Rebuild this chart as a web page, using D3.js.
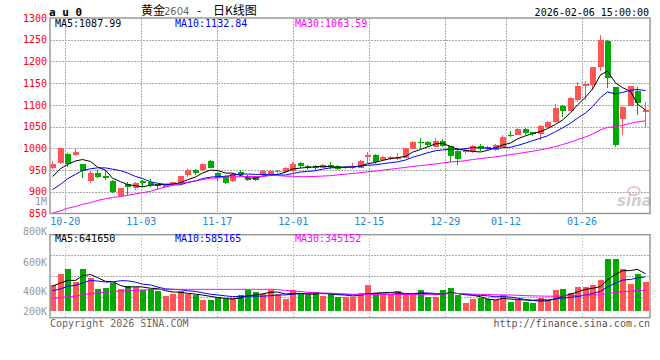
<!DOCTYPE html>
<html>
<head>
<meta charset="utf-8">
<script src="https://cdn.jsdelivr.net/npm/d3@7"></script>
<style>
body { margin: 0; background: #fff; }
text { font-family: "DejaVu Sans Mono", monospace; font-size: 10px; }
</style>
</head>
<body>
<div id="chart"></div>
<script>
// trading days shown, 10-16 .. 02-06
var dates = ["10-16","10-17","10-20","10-21","10-22","10-23","10-24","10-27","10-28","10-29",
  "10-30","10-31","11-03","11-04","11-05","11-06","11-07","11-10","11-11","11-12",
  "11-13","11-14","11-17","11-18","11-19","11-20","11-21","11-24","11-25","11-26",
  "11-27","11-28","12-01","12-02","12-03","12-04","12-05","12-08","12-09","12-10",
  "12-11","12-12","12-15","12-16","12-17","12-18","12-19","12-22","12-23","12-24",
  "12-25","12-26","12-29","12-30","12-31","01-05","01-06","01-07","01-08","01-09",
  "01-12","01-13","01-14","01-15","01-16","01-19","01-20","01-21","01-22","01-23",
  "01-26","01-27","01-28","01-29","01-30","02-02","02-03","02-04","02-05","02-06"];

var open = [956,965,988,986,963,924,944,936,925,890, 918,910,924,923,917,911,918,918,938,950,
  950,971,944,936,925,946,932,935,939,941, 945,945,948,966,959,959,956,962,959,954,
  954,955,981,985,971,975,976,978,999,1014, 1015,1004,1017,1005,995,991,992,1005,1002,996,
  1004,1031,1031,1045,1037,1033,1049,1061,1098,1087, 1110,1144,1146,1187,1246,1141,1068,1098,1133,1085];
var high = [970,1001,990,1001,965,947,950,947,926,909, 922,923,928,929,918,919,923,937,953,953,
  967,972,946,938,943,950,938,937,949,950, 950,956,968,968,962,962,963,968,962,959,
  967,972,991,986,982,982,989,1001,1016,1023, 1016,1024,1022,1006,1000,998,1007,1011,1006,1009,
  1030,1040,1046,1047,1038,1053,1062,1102,1099,1119, 1153,1156,1188,1262,1249,1142,1097,1144,1141,1107];
var low = [952,964,956,982,932,921,932,927,898,890, 893,905,910,911,904,910,917,917,935,938,
  948,954,925,917,923,936,924,924,938,939, 942,943,946,955,950,951,954,953,951,953,
  953,955,967,964,970,973,973,977,998,999, 1003,1002,1003,969,962,988,990,995,996,995,
  1003,1026,1030,1031,1028,1020,1047,1059,1072,1085, 1107,1112,1135,1177,1139,1003,1031,1097,1076,1050];
var close = [965,1000,966,992,948,943,935,931,899,908, 910,921,920,916,912,918,922,936,950,944,
  964,955,932,921,942,938,927,927,948,948, 948,955,964,958,955,955,962,958,953,957,
  957,971,985,968,979,979,981,1001,1015,1011, 1008,1017,1005,982,977,996,1005,998,1000,1008,
  1027,1028,1045,1036,1033,1052,1061,1093,1087,1116, 1143,1149,1187,1250,1160,1007,1095,1143,1106,1089];

// volume, thousands of lots
var volume = [453,642,717,499,717,568,373,396,482,373, 430,413,367,373,344,258,298,338,287,269,
  183,183,241,201,224,269,367,327,287,355, 298,201,355,310,269,327,258,310,241,241,
  241,310,441,310,269,269,338,298,269,355, 241,241,355,396,269,138,201,224,201,183,
  269,155,183,155,138,224,183,355,373,310, 413,413,441,527,889,889,717,459,631,499];

// moving averages before enough visible days exist
var ma5Head = [935,953,963,971];
var ma10Head = [905,917,930,940,949,953,955,955,952];
var ma30Head = [851,856,862,866,871,875,880,884,887,889,892,895,898,901,906,911,915,919,922,925,
  928,931,932,934,934,935,935,935,935];
var vma5Head = [430,482,527,527];
var vma10Head = [350,380,425,441,482,527,516,499,499];
var vma30Head = [212,229,247,258,281,298,310,321,333,344,350,355,361,367,373,373,373,373,373,373,
  373,373,373,373,373,373,373,373,373];

var priceTicks = [1300,1250,1200,1150,1100,1050,1000,950,900,850];
var priceGrid = [1250,1200,1150,1100,1050,1000,950,900];
var volTicks = ["1M","800K","600K","400K","200K"];
var dateTicks = ["10-20","11-03","11-17","12-01","12-15","12-29","01-12","01-26"];
var priceLegend = ["MA5:1087.99","MA10:1132.84","MA30:1063.59"];
var volLegend = ["MA5:641650","MA10:585165","MA30:345152"];
var maColors = ["#000000","#0000ff","#ff00ff"];

var upColor = "#ff5555", downColor = "#00aa00";
var left = 50, right = 650;
var mainTop = 18, mainBottom = 213.5;
var volTop = 234.7, volBottom = 317.7;

function rolling(arr, n, head) {
  return arr.map(function(v, i) {
    if (i < n - 1) return head[i];
    return d3.mean(arr.slice(i - n + 1, i + 1));
  });
}

var svg = d3.select("#chart").append("svg")
  .attr("width", 660).attr("height", 360);

var x = d3.scaleBand().domain(d3.range(dates.length)).range([left, right]).padding(0);
var gridX = d3.scaleLinear().domain([0, dates.length]).range([left, 658]);
var y = d3.scaleLinear().domain([850, 1300]).range([mainBottom, mainTop]);
var vy = d3.scaleLinear().domain([0, 1000]).range([311, 252.9]);
// sina spaces the volume labels unevenly
var volLabelY = d3.scaleLinear().domain(d3.range(volTicks.length)).range([201, 231, 262, 291, 311]);

function cx(i) { return Math.round(x(i)) + 2.5; }

// grids
var grid = svg.append("g").attr("stroke", "#aaa").attr("stroke-dasharray", "1.5,1.5")
  .attr("shape-rendering", "crispEdges");
grid.selectAll("line.h").data(priceGrid).enter().append("line")
  .attr("x1", left).attr("x2", right)
  .attr("y1", d => Math.round(y(d)) + 0.5).attr("y2", d => Math.round(y(d)) + 0.5);
grid.selectAll("line.vh").data(d3.range(1, 4)).enter().append("line")
  .attr("x1", left).attr("x2", right)
  .attr("y1", d => Math.round(volTop + (volBottom - volTop) * d / 4) + 0.5)
  .attr("y2", d => Math.round(volTop + (volBottom - volTop) * d / 4) + 0.5);
dateTicks.forEach(function(t) {
  var gx = Math.round(gridX(dates.indexOf(t))) + 0.5;
  grid.append("line").attr("x1", gx).attr("x2", gx).attr("y1", mainTop).attr("y2", mainBottom);
  grid.append("line").attr("x1", gx).attr("x2", gx).attr("y1", volTop).attr("y2", volBottom);
});

// watermark
var wm = svg.append("g");
wm.append("ellipse").attr("cx", 634).attr("cy", 191).attr("rx", 6).attr("ry", 4)
  .attr("fill", "none").attr("stroke", "#e6b8b8").attr("stroke-width", 1.5);
wm.append("text").attr("x", 617).attr("y", 206).text("sina")
  .style("font-family", "DejaVu Sans").style("font-style", "italic").style("font-weight", "bold")
  .style("font-size", "15px").attr("fill", "#cfcfcf");

// candles
var candles = svg.append("g").attr("shape-rendering", "crispEdges");
var idx = d3.range(dates.length);
candles.selectAll("line").data(idx).enter().append("line")
  .attr("x1", cx).attr("x2", cx)
  .attr("y1", i => Math.round(y(high[i]))).attr("y2", i => Math.round(y(low[i])))
  .attr("stroke", i => close[i] >= open[i] ? upColor : downColor);
candles.selectAll("rect").data(idx).enter().append("rect")
  .attr("x", i => Math.round(x(i)))
  .attr("width", 6)
  .attr("y", i => Math.round(y(Math.max(open[i], close[i]))))
  .attr("height", i => Math.max(1, Math.round(Math.abs(y(open[i]) - y(close[i])))))
  .attr("fill", i => close[i] >= open[i] ? upColor : downColor);

// volume bars
svg.append("g").attr("shape-rendering", "crispEdges")
  .selectAll("rect").data(idx).enter().append("rect")
  .attr("x", i => Math.round(x(i)))
  .attr("width", 6)
  .attr("y", i => Math.round(vy(volume[i])))
  .attr("height", i => Math.round(vy(0)) - Math.round(vy(volume[i])))
  .attr("fill", i => close[i] >= open[i] ? upColor : downColor);

// moving average lines
var priceMAs = [rolling(close, 5, ma5Head), rolling(close, 10, ma10Head), rolling(close, 30, ma30Head)];
var volMAs = [rolling(volume, 5, vma5Head), rolling(volume, 10, vma10Head), rolling(volume, 30, vma30Head)];
priceMAs.forEach(function(ma, k) {
  svg.append("path").datum(idx)
    .attr("d", d3.line().x(cx).y(i => y(ma[i])))
    .attr("fill", "none").attr("stroke", maColors[k]).attr("stroke-width", 1);
});
volMAs.forEach(function(ma, k) {
  svg.append("path").datum(idx)
    .attr("d", d3.line().x(cx).y(i => vy(ma[i])))
    .attr("fill", "none").attr("stroke", maColors[k]).attr("stroke-width", 1);
});

// frames
var frame = svg.append("g").attr("fill", "none").attr("stroke", "#999").attr("stroke-width", 1.5);
frame.append("rect").attr("x", left).attr("y", mainTop).attr("width", right - left).attr("height", mainBottom - mainTop);
frame.append("rect").attr("x", left).attr("y", volTop).attr("width", right - left).attr("height", volBottom - volTop);

// axes labels
var yAxis = svg.append("g").attr("transform", `translate(${left},0)`)
  .call(d3.axisLeft(y).tickValues(priceTicks).tickFormat(d3.format("d")).tickSize(0).tickPadding(3));
yAxis.select(".domain").remove();
yAxis.selectAll("text").attr("fill", "#ff0000").style("font-family", "DejaVu Sans Mono").style("font-size", "10px");

svg.append("g").selectAll("text").data(volTicks).enter().append("text")
  .attr("x", 47).attr("y", (d, i) => volLabelY(i)).attr("dy", "0.35em")
  .attr("text-anchor", "end").attr("fill", "#999").text(d => d);

svg.append("g").selectAll("text").data(dateTicks).enter().append("text")
  .attr("x", d => gridX(dates.indexOf(d))).attr("y", 225)
  .attr("text-anchor", "middle").attr("fill", "#1a86d6").text(d => d);

// legends
var legendX = [55, 175, 295];
priceLegend.forEach(function(t, k) {
  svg.append("text").attr("x", legendX[k]).attr("y", 26.5).attr("fill", maColors[k]).text(t);
});
volLegend.forEach(function(t, k) {
  svg.append("text").attr("x", legendX[k]).attr("y", 242).attr("fill", maColors[k]).text(t);
});

// header
svg.append("text").attr("x", 49).attr("y", 15.5).text("a u 0")
  .style("font-weight", "bold").style("font-size", "11px");
var title = svg.append("text").attr("y", 14.5).style("font-family", "Noto Sans CJK SC").style("font-size", "12px");
title.append("tspan").attr("x", 141).text("黄金");
title.append("tspan").attr("x", 164).attr("fill", "#666").style("font-family", "DejaVu Sans").style("font-size", "10px").text("2604");
title.append("tspan").attr("x", 197).text("-");
title.append("tspan").attr("x", 213).text("日K线图");
svg.append("text").attr("x", 649).attr("y", 15.5).attr("text-anchor", "end").text("2026-02-06 15:00:00");

// footer
svg.append("text").attr("x", 50).attr("y", 327).attr("fill", "#666").text("Copyright 2026 SINA.COM");
svg.append("text").attr("x", 650).attr("y", 327).attr("text-anchor", "end").attr("fill", "#555").text("http://finance.sina.com.cn");
</script>
</body>
</html>
